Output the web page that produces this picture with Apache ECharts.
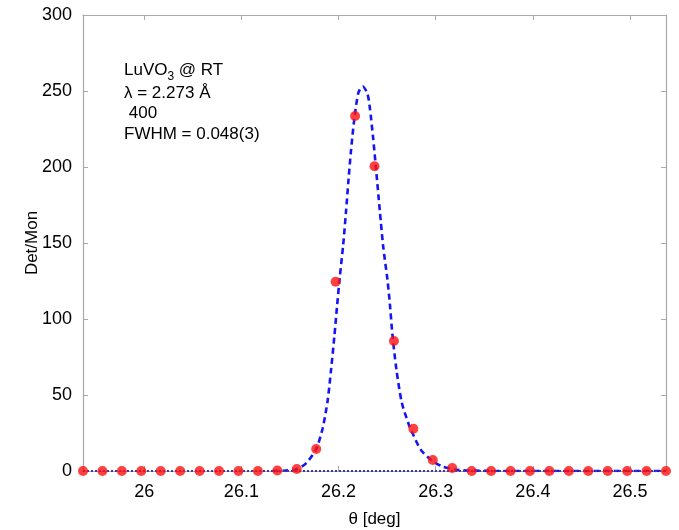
<!DOCTYPE html>
<html>
<head>
<meta charset="utf-8">
<script src="https://cdn.jsdelivr.net/npm/echarts@6/dist/echarts.min.js"></script>
<style>
  html, body { margin: 0; padding: 0; background: #fff; }
  #chart { width: 679px; height: 530px; }
</style>
</head>
<body>
<div id="chart"></div>
<script>
// Measured scan: scattering angle (deg) and normalised intensity
const theta = [25.937, 25.957, 25.977, 25.997, 26.017, 26.037, 26.057, 26.077, 26.097, 26.117,
               26.137, 26.157, 26.177, 26.197, 26.217, 26.237, 26.257, 26.277, 26.297, 26.317,
               26.337, 26.357, 26.377, 26.397, 26.417, 26.437, 26.457, 26.477, 26.497, 26.517, 26.537];
const detMon = [0, 0, 0, 0, 0, 0, 0, 0, 0, 0,
                0.3, 1.3, 14.5, 124.5, 233.6, 200.5, 85.5, 27.8, 7.2, 2.0,
                0, 0, 0, 0, 0, 0, 0, 0, 0, 0, 0];

// Peak fit curve
const fitTheta = [26.132, 26.146, 26.157, 26.1665, 26.177, 26.1836, 26.1887, 26.1922, 26.1956, 26.1984,
                  26.2012, 26.2048, 26.2076, 26.2103, 26.2127, 26.2161, 26.2205, 26.2250, 26.2298, 26.2322,
                  26.2356, 26.2384, 26.2425, 26.2459, 26.2503, 26.2528, 26.2554, 26.2595, 26.2651, 26.2726,
                  26.2753, 26.2846, 26.2959, 26.3068, 26.3239, 26.35, 26.40, 26.537];
const fitVal = [0, 0.3, 1.2, 5, 14.5, 28, 46, 66, 88, 108,
                127, 149, 170, 192, 210, 231, 249, 253, 248, 239,
                219, 200, 171, 148, 126, 110, 90, 67, 45, 30,
                26, 14, 7, 3, 0.7, 0.1, 0, 0];

// Axis ticks
const xTicks = [26, 26.1, 26.2, 26.3, 26.4, 26.5];
const yTicks = [0, 50, 100, 150, 200, 250, 300];

// Annotation lines
const sampleLine = 'LuVO{s|3} @ RT';
const waveLine = 'λ = 2.273 Å';
const reflLine = ' 400';
const fwhmLine = 'FWHM = 0.048(3)';

const FONT = "'Liberation Sans', Arial, sans-serif";
const AXIS_GREY = '#a9a9a9';

const chart = echarts.init(document.getElementById('chart'), null, { renderer: 'canvas' });

const xBase = {
  type: 'value', min: 25.937, max: 26.537,
  axisLine: { show: true, onZero: false, lineStyle: { color: AXIS_GREY, width: 1.2 } },
  axisTick: { show: true, inside: true, length: 5, customValues: xTicks, lineStyle: { color: AXIS_GREY } },
  splitLine: { show: false }
};
const yBase = {
  type: 'value', min: 0, max: 300, interval: 50,
  axisLine: { show: true, onZero: false, lineStyle: { color: AXIS_GREY, width: 1.2 } },
  axisTick: { show: true, inside: true, length: 5, lineStyle: { color: AXIS_GREY } },
  splitLine: { show: false }
};

chart.setOption({
  animation: false,
  backgroundColor: '#ffffff',
  textStyle: { fontFamily: FONT },
  grid: { left: 83, right: 13, top: 15, bottom: 59, containLabel: false, outerBoundsMode: 'none' },
  xAxis: [
    Object.assign({}, xBase, {
      position: 'bottom',
      name: 'θ [deg]', nameLocation: 'middle', nameGap: 40, nameMoveOverlap: false,
      nameTextStyle: { fontSize: 17, color: '#000', fontFamily: FONT },
      axisLabel: { show: true, customValues: xTicks, margin: 12, fontSize: 18, color: '#000', fontFamily: FONT,
                   formatter: v => String(Math.round(v * 10) / 10) }
    }),
    Object.assign({}, xBase, { position: 'top', axisLabel: { show: false } })
  ],
  yAxis: [
    Object.assign({}, yBase, {
      position: 'left',
      name: 'Det/Mon', nameLocation: 'middle', nameGap: 42, nameRotate: 90, nameMoveOverlap: false,
      nameTextStyle: { fontSize: 17, color: '#000', fontFamily: FONT },
      axisLabel: { show: true, margin: 11, fontSize: 18, color: '#000', fontFamily: FONT }
    }),
    Object.assign({}, yBase, { position: 'right', axisLabel: { show: false } })
  ],
  series: [
    {
      name: 'fit', type: 'line', xAxisIndex: 0, yAxisIndex: 0,
      data: fitTheta.map((t, i) => [t, fitVal[i]]),
      showSymbol: false, smooth: 0.25, z: 2,
      lineStyle: { color: '#1414f5', width: 2.6, type: [6, 4] }
    },
    {
      name: 'Det/Mon', type: 'scatter', xAxisIndex: 0, yAxisIndex: 0,
      data: theta.map((t, i) => [t, detMon[i]]),
      symbol: 'circle', symbolSize: 10, z: 4,
      itemStyle: { color: '#ff1010' },
      markLine: {
        silent: true, symbol: 'none', z: 3,
        label: { show: false },
        lineStyle: { color: '#3a3aa8', width: 2, type: [2, 2] },
        data: [{ yAxis: 0 }]
      }
    }
  ],
  graphic: [
    { type: 'text', left: 124, top: 62, style: {
        text: sampleLine, fill: '#000', font: '17px ' + FONT,
        rich: { s: { fontSize: 12, fontFamily: FONT, fill: '#000', padding: [12, 0, 0, 0] } } } },
    { type: 'text', left: 124, top: 85, style: { text: waveLine, fill: '#000', font: '17px ' + FONT } },
    { type: 'text', left: 124, top: 105, style: { text: reflLine, fill: '#000', font: '17px ' + FONT } },
    { type: 'text', left: 124, top: 126, style: { text: fwhmLine, fill: '#000', font: '17px ' + FONT } }
  ]
});
</script>
</body>
</html>
